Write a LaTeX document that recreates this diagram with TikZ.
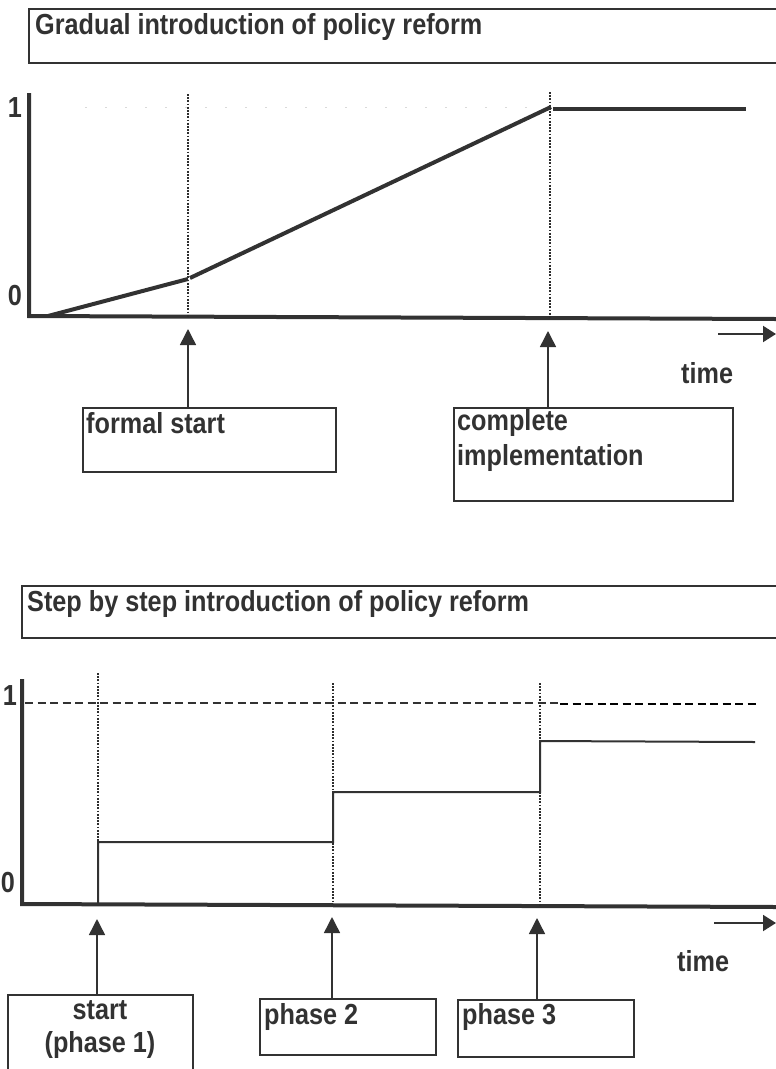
\documentclass[tikz,border=0pt]{standalone}
\usepackage{fontspec}
\setmainfont{Liberation Sans}
\newfontfamily\lblfont[FakeStretch=0.87]{Liberation Sans}
\usetikzlibrary{arrows.meta}
\definecolor{ink}{RGB}{50,50,50}
\begin{document}
\begin{tikzpicture}[x=1pt,y=-1pt,
  lbl/.style={font=\lblfont\bfseries\fontsize{29}{34}\selectfont, text=ink, inner sep=0pt},
  axisline/.style={draw=ink, line width=4pt},
  vdot/.style={draw=ink!90!black, line width=2.2pt, dash pattern=on 1.8pt off 1.4pt},
  curveline/.style={draw=ink, line width=4pt},
  stepline/.style={draw=ink, line width=2pt},
  box/.style={draw=ink, line width=1.5pt, inner sep=0pt, anchor=north west},
  uparrow/.style={draw=ink, line width=1.5pt, -{Triangle[length=16pt,width=16pt]}},
  timearrow/.style={draw=ink, line width=2pt, -{Triangle[length=13pt,width=16pt]}},
]
\useasboundingbox (0,0) rectangle (776,1069);

% ---------------- top panel ----------------
\node[box, minimum width=760pt, minimum height=54pt] (title1) at (28,8) {};
\node[lbl, anchor=base west] (title1t) at (35,34) {Gradual introduction of policy reform};

% axes
\draw[axisline] (29,93) -- (29,316) -- (776,319);
\node[lbl, anchor=base] (one1) at (15,117) {1};
\node[lbl, anchor=base] (zero1) at (15,305) {0};

% faint level line
\draw[gray!30, line width=1pt, dash pattern=on 2pt off 18pt] (85,107) -- (548,107);

% dotted verticals
\draw[vdot] (188,94) -- (188,317);
\draw[vdot] (550,92) -- (550,318);

% curve
\draw[curveline] (48,316) -- (188,279);
\draw[curveline] (190,278) -- (551,107);
\draw[curveline] (553,109) -- (746,109);

% time arrow
\coordinate (t1s) at (718,334);
\coordinate (t1e) at (776,334);
\draw[timearrow] (t1s) -- (t1e);
\node[lbl, anchor=base west] (time1) at (681,383) {time};

% boxes
\node[box, minimum width=253pt, minimum height=64pt] (fs) at (82,407) {};
\node[lbl, anchor=base west] (fst) at (86,433) {formal start};
\node[box, minimum width=279pt, minimum height=93pt] (ci) at (453,407) {};
\node[lbl, anchor=base west] (cit1) at (457,430) {complete};
\node[lbl, anchor=base west] (cit2) at (457,465) {implementation};

\coordinate (fsTip) at (188,329);
\coordinate (ciTip) at (548,331);
\draw[uparrow] (fs.north -| fsTip) -- (fsTip);
\draw[uparrow] (ci.north -| ciTip) -- (ciTip);

% ---------------- bottom panel ----------------
\node[box, minimum width=770pt, minimum height=52pt] (title2) at (21,585) {};
\node[lbl, anchor=base west] (title2t) at (27,611) {Step by step introduction of policy reform};

\draw[axisline] (22,679) -- (22,904) -- (776,907);
\node[lbl, anchor=base] (one2) at (10,705) {1};
\node[lbl, anchor=base] (zero2) at (8,892) {0};

% dashed level 1
\draw[ink, line width=1.5pt, dash pattern=on 8pt off 4.5pt] (25,703) -- (560,703);
\draw[black, line width=2.2pt, dash pattern=on 8pt off 4.5pt] (560,704) -- (756,704);

% dotted verticals
\draw[vdot] (98,673) -- (98,904);
\draw[vdot] (333,683) -- (333,905);
\draw[vdot] (540,683) -- (540,906);

% step line
\draw[stepline] (98,904) -- (98,842) -- (333,842) -- (333,792) -- (540,792) -- (540,741) -- (755,742);

% time arrow
\coordinate (t2s) at (714,923);
\coordinate (t2e) at (776,923);
\draw[timearrow] (t2s) -- (t2e);
\node[lbl, anchor=base west] (time2) at (677,971) {time};

% boxes
\node[box, minimum width=185pt, minimum height=90pt] (st) at (7,994) {};
\node[lbl, anchor=base] (stt1) at (100,1019) {start};
\node[lbl, anchor=base] (stt2) at (100,1052) {(phase 1)};
\node[box, minimum width=176pt, minimum height=56pt] (p2) at (259,998) {};
\node[lbl, anchor=base west] (p2t) at (264,1024) {phase 2};
\node[box, minimum width=176pt, minimum height=57pt] (p3) at (457,999) {};
\node[lbl, anchor=base west] (p3t) at (462,1024) {phase 3};

\coordinate (stTip) at (97,919);
\coordinate (p2Tip) at (332,917);
\coordinate (p3Tip) at (537,918);
\draw[uparrow] (st.north -| stTip) -- (stTip);
\draw[uparrow] (p2.north -| p2Tip) -- (p2Tip);
\draw[uparrow] (p3.north -| p3Tip) -- (p3Tip);
\end{tikzpicture}
\end{document}
